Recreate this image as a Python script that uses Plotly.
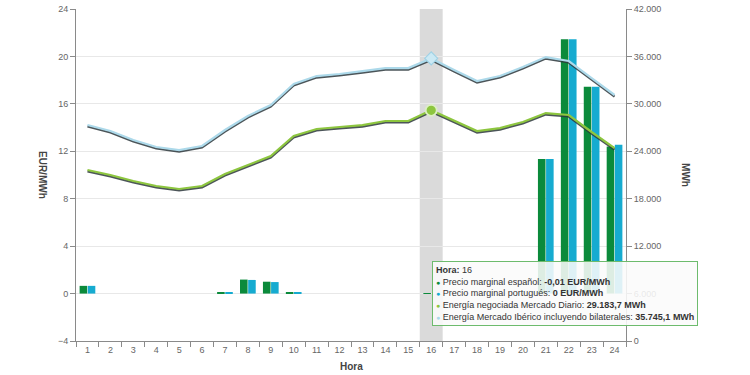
import plotly.graph_objects as go

hours = [str(h) for h in range(1, 25)]

precio_es = [0.65, 0, 0, 0, 0, 0, 0.1, 1.18, 1.0, 0.12, 0, 0, 0, 0, 0, -0.01,
             0, 0, 0, 0, 11.35, 21.45, 17.45, 12.4]
precio_pt = [0.65, 0, 0, 0, 0, 0, 0.1, 1.15, 0.97, 0.1, 0, 0, 0, 0, 0, 0,
             0, 0, 0, 0, 11.35, 21.45, 17.45, 12.55]

energia_diario = [21630, 21000, 20240, 19610, 19230, 19610, 21130, 22260, 23400, 25930,
                  26820, 27070, 27320, 27830, 27830, 29183.7, 27830, 26560, 26940, 27700,
                  28840, 28590, 26440, 24410]
energia_iberico = [27320, 26570, 25430, 24540, 24160, 24670, 26690, 28460, 29850, 32510,
                   33520, 33780, 34150, 34530, 34530, 35745.1, 34280, 32890, 33520, 34660,
                   35920, 35420, 33270, 31120]

left_ticks = [-4, 0, 4, 8, 12, 16, 20, 24]
right_tickvals = [0, 6000, 12000, 18000, 24000, 30000, 36000, 42000]
right_ticktext = ["0", "6.000", "12.000", "18.000", "24.000", "30.000", "36.000", "42.000"]

sel = 15  # hour 16

C_ES = "#0b8a3b"
C_PT = "#16abd0"
C_DIA = "#8dc63f"
C_IB = "#acd9ea"
FONT = "Liberation Sans, Arial, sans-serif"

fig = go.Figure()

fig.add_trace(go.Bar(x=hours, y=precio_es, marker_color=C_ES, marker_line_width=0,
                     name="Precio marginal español", yaxis="y"))
fig.add_trace(go.Bar(x=hours, y=precio_pt, marker_color=C_PT, marker_line_width=0,
                     name="Precio marginal portugués", yaxis="y"))

# shadow lines (on a slightly shifted hidden axis, drawn beneath)
for data in (energia_iberico, energia_diario):
    fig.add_trace(go.Scatter(x=hours, y=data, mode="lines", yaxis="y2",
                             line=dict(color="rgba(45,55,60,0.85)", width=2.2),
                             hoverinfo="skip", showlegend=False))

fig.add_trace(go.Scatter(x=hours, y=energia_iberico, mode="lines", yaxis="y3",
                         line=dict(color=C_IB, width=2.2),
                         name="Energía Mercado Ibérico incluyendo bilaterales"))
fig.add_trace(go.Scatter(x=hours, y=energia_diario, mode="lines", yaxis="y3",
                         line=dict(color=C_DIA, width=2.2),
                         name="Energía negociada Mercado Diario"))

fig.add_trace(go.Scatter(x=[hours[sel]], y=[energia_iberico[sel]], mode="markers", yaxis="y3",
                         marker=dict(symbol="diamond", size=10, color="#cbe9f4",
                                     line=dict(color="#9fd2e6", width=1.2)),
                         showlegend=False))
fig.add_trace(go.Scatter(x=[hours[sel]], y=[energia_diario[sel]], mode="markers", yaxis="y3",
                         marker=dict(symbol="circle", size=11, color=C_DIA,
                                     line=dict(color="#dcefc4", width=1.8)),
                         showlegend=False))

fig.add_shape(type="rect", xref="x", yref="paper", x0=sel - 0.5, x1=sel + 0.5,
              y0=0, y1=1, fillcolor="#dadada", line_width=0, layer="below")

tooltip = (
    "<b>Hora:</b> 16<br>"
    f"<span style='color:{C_ES};font-size:7px'>●</span> Precio marginal español: <b>-0,01 EUR/MWh</b><br>"
    f"<span style='color:{C_PT};font-size:7px'>●</span> Precio marginal portugués: <b>0 EUR/MWh</b><br>"
    f"<span style='color:{C_DIA};font-size:7px'>●</span> Energía negociada Mercado Diario: <b>29.183,7 MWh</b><br>"
    f"<span style='color:{C_IB};font-size:7px'>●</span> Energía Mercado Ibérico incluyendo bilaterales: <b>35.745,1 MWh</b>"
)
fig.add_annotation(xref="paper", yref="paper", x=0.647, y=0.241, xanchor="left", yanchor="top",
                   text=tooltip, showarrow=False, align="left",
                   font=dict(family=FONT, size=9, color="#333333"),
                   bgcolor="rgba(250,250,250,0.88)", bordercolor="#6dbb6d", borderwidth=1,
                   borderpad=3)

fig.add_annotation(xref="paper", yref="paper", x=-0.06, y=0.5, text="<b>EUR/MWh</b>",
                   textangle=90, showarrow=False, xanchor="center", yanchor="middle",
                   font=dict(family=FONT, size=10, color="#444444"))
fig.add_annotation(xref="paper", yref="paper", x=1.109, y=0.5, text="<b>MWh</b>",
                   textangle=90, showarrow=False, xanchor="center", yanchor="middle",
                   font=dict(family=FONT, size=10, color="#444444"))
fig.add_annotation(xref="paper", yref="paper", x=0.5, y=-0.077, text="<b>Hora</b>",
                   showarrow=False, xanchor="center", yanchor="middle",
                   font=dict(family=FONT, size=10, color="#444444"))

axis_common = dict(showline=True, linecolor="#8a8a8a", linewidth=1, ticks="outside",
                   ticklen=5, tickcolor="#8a8a8a", automargin=False,
                   tickfont=dict(family=FONT, size=9, color="#666666"))

fig.update_layout(
    width=750, height=375,
    margin=dict(l=76, r=124, t=9, b=34),
    paper_bgcolor="white", plot_bgcolor="white",
    showlegend=False, barmode="group", bargap=0.29, bargroupgap=0.07,
    font=dict(family=FONT),
    xaxis=dict(type="category", range=[-0.5, 23.5], tickson="boundaries",
               showgrid=False, **axis_common),
    yaxis=dict(range=[-4, 24], tickvals=left_ticks, showgrid=True, gridcolor="#e8e8e8",
               zeroline=False, **axis_common),
    yaxis2=dict(range=[190, 42190], overlaying="y", visible=False),
    yaxis3=dict(range=[0, 42000], overlaying="y", side="right", tickvals=right_tickvals,
                ticktext=right_ticktext, showgrid=False, zeroline=False, **axis_common),
)

fig.write_html("out.html")
